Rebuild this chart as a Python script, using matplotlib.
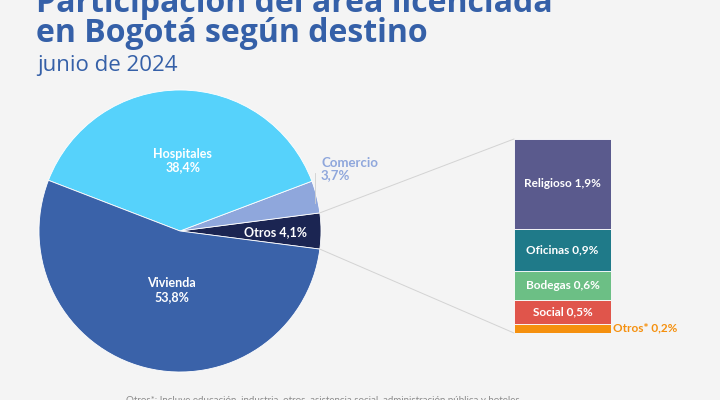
import numpy as np
import matplotlib
matplotlib.use("Agg")
import matplotlib.pyplot as plt
from matplotlib.patches import ConnectionPatch

plt.rcParams['font.family'] = ['Lato', 'DejaVu Sans']

# pie data
pie_labels = ["Otros", "Comercio", "Hospitales", "Vivienda"]
pie_values = [4.1, 3.7, 38.4, 53.8]
pie_colors = ["#1b2552", "#8fa7dc", "#56d2fb", "#3a62a9"]

# breakdown of "Otros"
bar_labels = ["Otros*", "Social", "Bodegas", "Oficinas", "Religioso"]
bar_values = [0.2, 0.5, 0.6, 0.9, 1.9]
bar_colors = ["#f5900e", "#e0554b", "#6cbf85", "#1f7a89", "#5a5a8d"]

bg = "#f4f4f4"
blue = "#3560a8"

W, H = 720, 400
fig = plt.figure(figsize=(7.2, 4.0), dpi=100)
fig.patch.set_facecolor(bg)

def fx(px):
    return px / W

def fy(py):
    return 1 - py / H

# title
title_font = ['Open Sans', 'DejaVu Sans']
fig.text(fx(36), fy(12), "Participación del área licenciada", fontsize=23,
         fontweight='bold', color=blue, va='baseline', family=title_font)
fig.text(fx(36), fy(42), "en Bogotá según destino", fontsize=23,
         fontweight='bold', color=blue, va='baseline', family=title_font)
fig.text(fx(37), fy(71), "junio de 2024", fontsize=16, color=blue,
         va='baseline', family=title_font)

# pie
cx, cy, r = 180, 231, 141
ax = fig.add_axes([fx(cx - r), fy(cy + r), 2 * r / W, 2 * r / H])
start = -pie_values[0] / 100 * 360 / 2
wedges, _ = ax.pie(pie_values, colors=pie_colors, startangle=start,
                   counterclock=True, radius=1,
                   wedgeprops=dict(edgecolor='white', linewidth=0.6))
ax.set_xlim(-1, 1)
ax.set_ylim(-1, 1)
ax.axis('off')

ax.text(0.02, 0.50, "Hospitales\n38,4%", ha='center', va='center',
        color='white', fontsize=9, fontweight='bold', linespacing=1.2)
ax.text(-0.06, -0.42, "Vivienda\n53,8%", ha='center', va='center',
        color='white', fontsize=9, fontweight='bold', linespacing=1.2)
ax.text(0.68, -0.01, "Otros 4,1%", ha='center', va='center',
        color='white', fontsize=9, fontweight='bold')
ax.text(1.0, 0.44, "Comercio\n3,7%", ha='left', va='center',
        color=pie_colors[1], fontsize=9.5, fontweight='bold',
        linespacing=0.95, clip_on=False)
ax.plot([0.96, 0.96], [0.41, 0.20], color="#d0d0d0", lw=0.6,
        clip_on=False)

# stacked bar
ax2 = fig.add_axes([fx(514), fy(333), (611 - 514) / W, (333 - 139) / H])
ax2.set_facecolor(bg)
bottom = 0
for lab, val, col in zip(bar_labels, bar_values, bar_colors):
    ax2.bar(0, val, bottom=bottom, width=1, color=col, edgecolor='white',
            linewidth=0.6)
    text = lab + " " + ("%.1f" % val).replace(".", ",") + "%"
    if lab == "Otros*":
        ax2.text(0.52, bottom + val / 2, text, ha='left', va='center',
                 color=col, fontsize=8.5, fontweight='bold', clip_on=False)
    else:
        ax2.text(0, bottom + val / 2, text, ha='center', va='center',
                 color='white', fontsize=8.5, fontweight='bold')
    bottom += val
ax2.set_xlim(-0.5, 0.5)
ax2.set_ylim(0, sum(bar_values))
ax2.axis('off')

# connection lines
a = np.deg2rad(pie_values[0] / 100 * 360 / 2)
for sgn, yb in [(1, sum(bar_values)), (-1, 0)]:
    con = ConnectionPatch(xyA=(np.cos(a), sgn * np.sin(a)), coordsA=ax.transData,
                          xyB=(-0.5, yb), coordsB=ax2.transData,
                          color="#d3d3d3", lw=0.7)
    fig.add_artist(con)

# footnote (mostly cut off, as in the source image)
fig.text(fx(126), fy(396), "Otros*: Incluye educación, industria, otros, asistencia social, administración pública y hoteles",
         fontsize=7, color="#8a8a8a", va='top')

fig.savefig("out.png", dpi=100, facecolor=bg)
